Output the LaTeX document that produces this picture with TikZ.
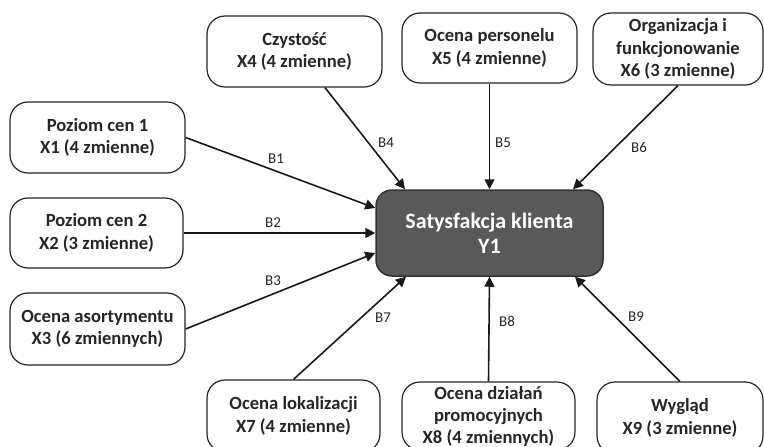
\documentclass[tikz,border=0pt]{standalone}
\usepackage{fontspec}
\setmainfont{Carlito}
\usetikzlibrary{arrows.meta,calc}
\begin{document}
\begin{tikzpicture}[x=1pt,y=-1pt,
 box/.style={draw=black!85, line width=1.2pt, rounded corners=18pt, fill=white, align=center, inner sep=0pt, font=\fontsize{18.6}{22.5}\selectfont\bfseries, text=black!85},
 core/.style={draw=black!80, line width=1.5pt, rounded corners=16pt, fill=black!65, align=center, inner sep=0pt, text=white, font=\fontsize{22}{25}\selectfont\bfseries},
 link/.style={line width=1.6pt, draw=black!90, -{Triangle[length=10pt,width=10pt]}},
 lbl/.style={font=\fontsize{15}{17}\selectfont, text=black!85, inner sep=0pt}]
\useasboundingbox (0,0) rectangle (764,447);
\clip (0,0) rectangle (764,447);
% boxes
\node[box, minimum width=175pt, minimum height=71pt] (x1) at (97.5,137.5) {Poziom cen 1\\X1 (4 zmienne)};
\node[box, minimum width=173pt, minimum height=70pt] (x2) at (96.5,233) {Poziom cen 2\\X2 (3 zmienne)};
\node[box, minimum width=175pt, minimum height=72pt] (x3) at (97.5,329) {Ocena asortymentu\\X3 (6 zmiennych)};
\node[box, minimum width=175pt, minimum height=71pt] (x4) at (294.5,51.5) {Czystość\\X4 (4 zmienne)};
\node[box, minimum width=175pt, minimum height=70pt] (x5) at (489.5,48) {Ocena personelu\\X5 (4 zmienne)};
\node[box, minimum width=170pt, minimum height=72pt] (x6) at (678,49) {Organizacja i\\funkcjonowanie\\X6 (3 zmienne)};
\node[box, minimum width=173pt, minimum height=72pt] (x7) at (293.5,416) {Ocena lokalizacji\\X7 (4 zmienne)};
\node[box, minimum width=173pt, minimum height=68pt, font=\fontsize{18.6}{22}\selectfont\bfseries] (x8) at (488.5,416) {Ocena działań\\promocyjnych\\X8 (4 zmiennych)};
\node[box, minimum width=166pt, minimum height=72pt] (x9) at (680,418) {Wygląd\\X9 (3 zmienne)};
\node[core, minimum width=227pt, minimum height=86pt] (y) at (489.5,233) {Satysfakcja klienta\\Y1};
% connector ends
\coordinate (s4) at ($(x4.south)+(30.5,0)$);
\coordinate (e1) at ($(y.west)+(0,-25)$);
\coordinate (e3) at ($(y.west)+(0,20)$);
\coordinate (e4) at ($(y.north)+(-84.5,0)$);
\coordinate (e6) at ($(y.north)+(83.5,0)$);
\coordinate (e7) at ($(y.south)+(-83.5,0)$);
\coordinate (e9) at ($(y.south)+(85.5,0)$);
% connectors
\draw[link] (x1.east) -- (e1);
\draw[link] (x2.east) -- (y.west);
\draw[link] (x3.east) -- (e3);
\draw[link] (s4) -- (e4);
\draw[link] (x5.south) -- (y.north);
\draw[link] (x6.south) -- (e6);
\draw[link] (x7.north) -- (e7);
\draw[link] (x8.north) -- (y.south);
\draw[link] (x9.north) -- (e9);
% labels
\node[lbl] (b1) at (276,159) {B1};
\node[lbl] (b2) at (273,223) {B2};
\node[lbl] (b3) at (273,281) {B3};
\node[lbl] (b4) at (386,143) {B4};
\node[lbl] (b5) at (503,143) {B5};
\node[lbl] (b6) at (639,147) {B6};
\node[lbl] (b7) at (383,318) {B7};
\node[lbl] (b8) at (507,321) {B8};
\node[lbl] (b9) at (636,317) {B9};
\end{tikzpicture}
\end{document}
